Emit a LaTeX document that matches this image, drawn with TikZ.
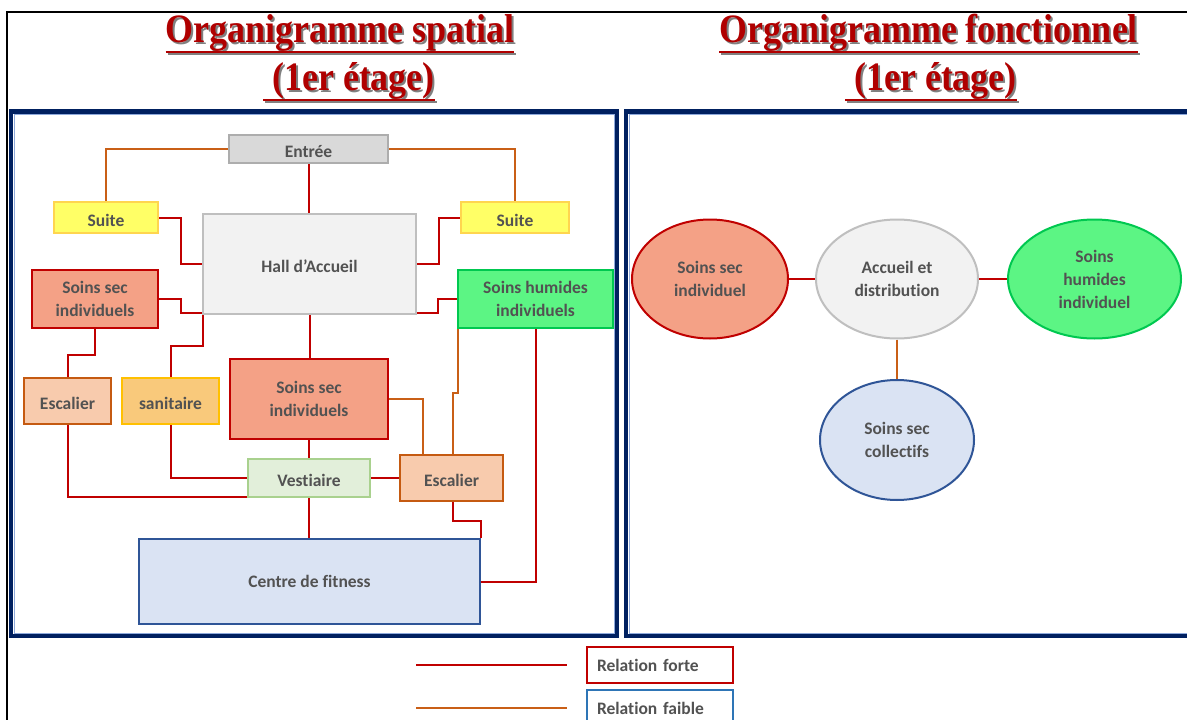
\documentclass[tikz,border=0pt]{standalone}
\usepackage{fontspec}
\usepackage{graphicx}
\setmainfont{Liberation Serif}
\newfontfamily\labfont{Carlito}[Ligatures=NoCommon]
\usetikzlibrary{shapes.geometric,calc}
\definecolor{navy}{HTML}{002060}
\definecolor{navylight}{HTML}{8EA9DB}
\definecolor{txt}{HTML}{525252}
\definecolor{sred}{HTML}{C00000}
\definecolor{sorange}{HTML}{C95F16}
\definecolor{tred}{HTML}{B00000}
\definecolor{tshadow}{HTML}{808080}
\definecolor{entreefill}{HTML}{D9D9D9}
\definecolor{entreedraw}{HTML}{ADADAD}
\definecolor{hallfill}{HTML}{F2F2F2}
\definecolor{halldraw}{HTML}{BFBFBF}
\definecolor{suitefill}{HTML}{FFFF66}
\definecolor{suitedraw}{HTML}{FFD54F}
\definecolor{secfill}{HTML}{F4A186}
\definecolor{humfill}{HTML}{5CF584}
\definecolor{humdraw}{HTML}{00C850}
\definecolor{escfill}{HTML}{F8CBAD}
\definecolor{escdraw}{HTML}{C55A11}
\definecolor{sanfill}{HTML}{F9C97B}
\definecolor{sandraw}{HTML}{FFC000}
\definecolor{vestfill}{HTML}{E2EFDA}
\definecolor{vestdraw}{HTML}{A9D18E}
\definecolor{fitfill}{HTML}{DAE3F3}
\definecolor{fitdraw}{HTML}{2F5597}
\definecolor{legblue}{HTML}{2E75B6}
\newcommand\ulx[1]{\setbox0=\hbox{\scalebox{1}[1.12]{#1}}\leavevmode\rlap{\rule[\dimexpr-\dp0-2.5pt\relax]{\wd0}{2.8pt}}\box0}
\tikzset{
  box/.style={draw, line width=2pt, inner sep=0pt, align=center, text=txt,
    font=\labfont\bfseries\fontsize{17.5}{23}\selectfont},
  one/.style={text height=17pt, text depth=0pt},
  oval/.style={box, ellipse},
  strong/.style={draw=sred, line width=2pt},
  weak/.style={draw=sorange, line width=2pt},
  ttl/.style={anchor=base, inner sep=0pt, font=\bfseries\fontsize{36}{40}\selectfont},
  legbox/.style={draw, line width=2pt, minimum width=146, minimum height=36,
    inner xsep=10pt, inner ysep=0pt, text width=126pt, align=left, text=txt,
    font=\labfont\bfseries\fontsize{17.5}{23}\selectfont},
}
\newcommand\ttlnode[3]{%
  \node[ttl, text=tshadow] at ($#1+(2,2)$) {\ulx{#3}};
  \node[ttl, text=tred] (#2) at #1 {\ulx{#3}};}
\begin{document}
\begin{tikzpicture}[x=1pt,y=-1pt]
\useasboundingbox (0,0) rectangle (1187,720);
\fill[white] (0,0) rectangle (1187,720);
% outer frame
\draw[black, line width=2pt] (7,722) -- (7,12) -- (1190,12);
% titles
\ttlnode{(340,42)}{t1a}{Organigramme spatial}
\ttlnode{(349,90)}{t1b}{\ (1er étage)}
\ttlnode{(928.5,42)}{t2a}{Organigramme fonctionnel}
\ttlnode{(931,90)}{t2b}{\ (1er étage)}
% panels
\draw[navy, line width=4.5pt] (11,111.5) rectangle (617,636);
\draw[navy, line width=4.5pt] (626,111.5) rectangle (1200,636);
\draw[navylight, line width=0.7pt] (14,114.5) rectangle (614,633);
\draw[navylight, line width=0.7pt] (629,114.5) rectangle (1200,633);
% left panel nodes
\node[box, one, fill=entreefill, draw=entreedraw, minimum width=159, minimum height=28] (entree) at (308.5,149) {Entrée};
\node[box, one, fill=suitefill, draw=suitedraw, minimum width=104, minimum height=31] (suiteL) at (106,217.5) {Suite};
\node[box, one, fill=suitefill, draw=suitedraw, minimum width=108, minimum height=31] (suiteR) at (515,217.5) {Suite};
\node[box, one, fill=hallfill, draw=halldraw, minimum width=213, minimum height=100] (hall) at (309.5,264) {Hall d’Accueil};
\node[box, fill=secfill, draw=sred, minimum width=126, minimum height=58] (sslL) at (95,299) {Soins sec\\individuels};
\node[box, fill=humfill, draw=humdraw, minimum width=155, minimum height=58] (hum) at (535.5,299) {Soins humides\\individuels};
\node[box, one, fill=escfill, draw=escdraw, minimum width=87, minimum height=46] (escL) at (67.5,401) {Escalier};
\node[box, one, fill=sanfill, draw=sandraw, minimum width=97, minimum height=46] (sanit) at (170.5,401) {sanitaire};
\node[box, fill=secfill, draw=sred, minimum width=158, minimum height=80] (sslC) at (309,399) {Soins sec\\individuels};
\node[box, one, fill=vestfill, draw=vestdraw, minimum width=122, minimum height=38] (vest) at (309,478) {Vestiaire};
\node[box, one, fill=escfill, draw=escdraw, minimum width=103, minimum height=46] (escR) at (451.5,478) {Escalier};
\node[box, fill=fitfill, draw=fitdraw, minimum width=341, minimum height=85] (fit) at (309.5,581.5) {Centre de fitness};
% weak connectors
\draw[weak] (entree.west) -| (suiteL.north);
\draw[weak] (entree.east) -| (suiteR.north);
\draw[weak] (sslC.east) -| ($(escR.north west)+(24,0)$);
\draw[weak] ($(hum.south west)+(1,0)$) -- ++(0,64) -| ($(escR.north)+(1.5,0)$);
% strong connectors
\draw[strong] (entree.south) -- (entree.south |- hall.north);
\draw[strong] (suiteL.east) -- ++(22,0) |- (hall.west);
\draw[strong] (hall.east) -- ++(22,0) |- (suiteR.west);
\draw[strong] (sslL.east) -- ++(22,0) |- ($(hall.south west)+(0,-2)$);
\draw[strong] (sanit.north) -- ++(0,-31) -| ($(hall.south west)+(1,0)$);
\draw[strong] ($(hall.south east)+(0,-2)$) -- ++(21,0) |- (hum.west);
\draw[strong] (hall.south) -- (hall.south |- sslC.north);
\draw[strong] (sslL.south) -- ++(0,26) -| (escL.north);
\draw[strong] (escL.south) |- ($(vest.south west)+(0,-1)$);
\draw[strong] (sanit.south) |- (vest.west);
\draw[strong] (sslC.south) -- (vest.north);
\draw[strong] (vest.east) -- (escR.west);
\draw[strong] (vest.south) -- (vest.south |- fit.north);
\draw[strong] ($(escR.south)+(1,0)$) -- ++(0,19) -| (fit.north east);
\draw[strong] ($(hum.south)+(0.5,0)$) |- (fit.east);
% right panel
\node[oval, fill=secfill, draw=sred, minimum width=156, minimum height=119] (e1) at (710,279) {Soins sec\\individuel};
\node[oval, fill=hallfill, draw=halldraw, minimum width=162, minimum height=119] (e2) at (897,279) {Accueil et\\distribution};
\node[oval, fill=humfill, draw=humdraw, minimum width=173, minimum height=119] (e3) at (1094.5,279) {Soins\\humides\\individuel};
\node[oval, fill=fitfill, draw=fitdraw, minimum width=154, minimum height=120] (e4) at (897,440) {Soins sec\\collectifs};
\draw[strong] (e1.east) -- (e2.west);
\draw[strong] (e2.east) -- (e3.west);
\draw[weak] (e2.south) -- (e4.north);
% legend
\coordinate (la1) at (416,665);
\coordinate (lb1) at (567,665);
\coordinate (la2) at (416,708);
\coordinate (lb2) at (567,708);
\draw[strong] (la1) -- (lb1);
\draw[weak] (la2) -- (lb2);
\node[legbox, draw=sred] (lf) at (660,665) {Relation forte};
\node[legbox, draw=legblue] (lw) at (660,708) {Relation faible};
\end{tikzpicture}
\end{document}
